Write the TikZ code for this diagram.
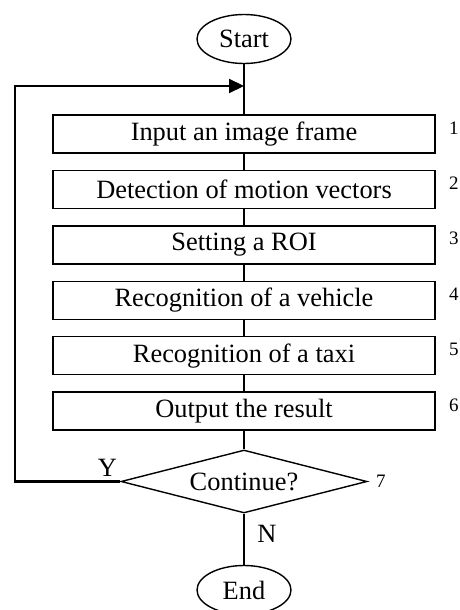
\documentclass[tikz,border=0pt]{standalone}
\usepackage{fontspec}
\setmainfont{Liberation Serif}
\usetikzlibrary{shapes.geometric,arrows.meta}
\tikzset{
  mainfont/.style={font=\fontsize{13.2}{14}\selectfont},
  procbox/.style={draw,line width=0.7pt,minimum width=191pt,minimum height=19pt,inner sep=0pt,mainfont},
  terminal/.style={draw,ellipse,line width=0.7pt,minimum width=47pt,minimum height=24.5pt,inner sep=0pt,mainfont},
  decision/.style={draw,diamond,aspect=3.9,line width=0.7pt,minimum width=123pt,minimum height=31.5pt,inner sep=0pt,mainfont},
  stepno/.style={anchor=west,inner sep=0pt,font=\fontsize{9.5}{10}\selectfont},
  flow/.style={line width=0.6pt}
}
\begin{document}
\begin{tikzpicture}[x=0.5pt,y=-0.5pt]%taxi flowchart
\useasboundingbox (0,0) rectangle (460,610);
\node[terminal] (start) at (244,39) {Start};
\foreach \n/\y/\t in {1/134/Input an image frame,2/189.4/Detection of motion vectors,3/244.8/Setting a ROI,4/300.2/Recognition of a vehicle,5/355.6/Recognition of a taxi,6/411/Output the result}
{\node[procbox] (b\n) at (244,\y) {\t};
 \node[stepno,xshift=6.5pt,yshift=3pt] (n\n) at (b\n.east) {\n};}
\node[decision] (dec) at (244,481.5) {Continue?};
\node[stepno,xshift=4pt] (n7) at (dec.east) {7};
\node[terminal] (end) at (244,590) {End};
\node[anchor=south east,inner sep=0pt,xshift=-1.5pt,yshift=2.5pt,mainfont] (yes) at (dec.west) {Y};
\node[anchor=north west,inner sep=0pt,xshift=6.5pt,yshift=-5.5pt,mainfont] (no) at (dec.south) {N};
\draw[flow] (start) -- (b1);
\foreach \a/\b in {1/2,2/3,3/4,4/5,5/6}
  \draw[flow] (b\a) -- (b\b);
\draw[flow] (b6) -- (dec);
\draw[flow] (dec) -- (end);
\coordinate (back) at (15,86);
\coordinate (merge) at (244,86);
\draw[line width=1.1pt,-{Triangle[length=7.5pt,width=7pt]}] (dec.west) -| (back) -- (merge);
\end{tikzpicture}
\end{document}
